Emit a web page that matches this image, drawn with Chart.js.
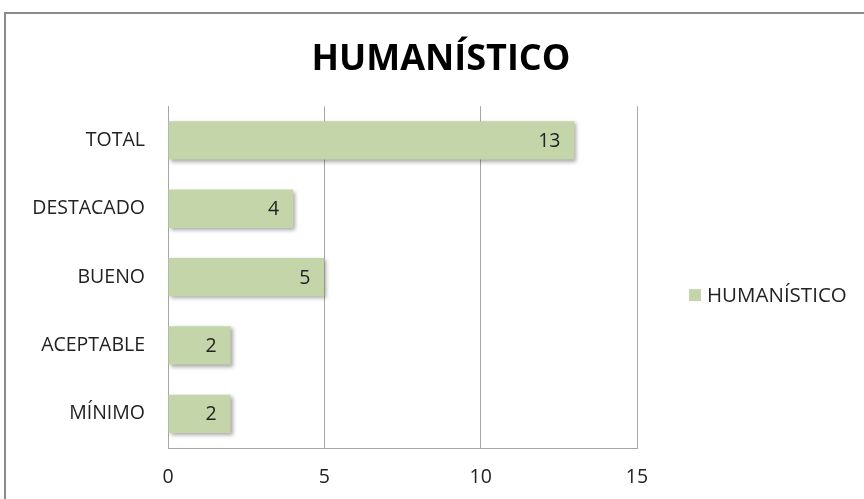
<!DOCTYPE html>
<html>
<head>
<meta charset="utf-8">
<script src="https://cdn.jsdelivr.net/npm/chart.js@4.4.1/dist/chart.umd.min.js"></script>
<style>
html,body{margin:0;padding:0;background:#fff;}
#wrap{position:relative;width:864px;height:499px;}
</style>
</head>
<body>
<div id="wrap"><canvas id="c" width="864" height="499"></canvas></div>
<script>
const chartTitle = 'HUMANÍSTICO';
const seriesName = 'HUMANÍSTICO';
const categories = ['TOTAL', 'DESTACADO', 'BUENO', 'ACEPTABLE', 'MÍNIMO'];
const values = [13, 4, 5, 2, 2];
const xTicks = [0, 5, 10, 15];

const FONT = '"Open Sans", "Liberation Sans", sans-serif';
const BAR = '#c4d6a9';

const framePlugin = {
  id: 'frame',
  beforeDraw(chart) {
    const ctx = chart.ctx;
    ctx.save();
    ctx.fillStyle = '#fff';
    ctx.fillRect(0, 0, chart.width, chart.height);
    ctx.strokeStyle = '#8a8a8a';
    ctx.lineWidth = 2;
    ctx.beginPath();
    ctx.moveTo(5, chart.height);
    ctx.lineTo(5, 13);
    ctx.lineTo(chart.width, 13);
    ctx.stroke();
    ctx.restore();
  }
};

const shadowPlugin = {
  id: 'barShadow',
  beforeDatasetDraw(chart) {
    const ctx = chart.ctx;
    ctx.save();
    ctx.shadowColor = 'rgba(0,0,0,0.35)';
    ctx.shadowBlur = 4;
    ctx.shadowOffsetX = 2;
    ctx.shadowOffsetY = 2;
  },
  afterDatasetDraw(chart) {
    chart.ctx.restore();
  }
};

const labelPlugin = {
  id: 'valueLabels',
  afterDatasetsDraw(chart) {
    const ctx = chart.ctx;
    const meta = chart.getDatasetMeta(0);
    ctx.save();
    ctx.font = '19.5px ' + FONT;
    ctx.fillStyle = '#222';
    ctx.textAlign = 'right';
    ctx.textBaseline = 'middle';
    meta.data.forEach((bar, i) => {
      ctx.fillText(String(chart.data.datasets[0].data[i]), bar.x - 14, bar.y + 1);
    });
    ctx.restore();
  }
};

const legendPlugin = {
  id: 'sideLegend',
  afterDraw(chart) {
    const ctx = chart.ctx;
    const ds = chart.data.datasets[0];
    const a = chart.chartArea;
    const cy = (a.top + a.bottom) / 2 + 18;
    ctx.save();
    ctx.fillStyle = ds.backgroundColor;
    ctx.fillRect(689, cy - 6, 12, 12);
    ctx.font = '20.5px ' + FONT;
    ctx.fillStyle = '#222';
    ctx.textAlign = 'left';
    ctx.textBaseline = 'middle';
    ctx.fillText(ds.label, 707, cy + 1);
    ctx.restore();
  }
};

new Chart(document.getElementById('c'), {
  type: 'bar',
  data: {
    labels: categories,
    datasets: [{
      label: seriesName,
      data: values,
      backgroundColor: BAR,
      borderWidth: 0,
      categoryPercentage: 1,
      barPercentage: 0.56
    }]
  },
  options: {
    indexAxis: 'y',
    responsive: false,
    animation: false,
    layout: { padding: { left: 18, right: 0, top: 0, bottom: 0 } },
    plugins: {
      legend: { display: false },
      tooltip: { enabled: false },
      title: {
        display: true,
        text: chartTitle,
        color: '#000',
        font: { family: FONT, size: 36, weight: 'bold', lineHeight: 1.2 },
        padding: { top: 38, bottom: 25 }
      }
    },
    scales: {
      x: {
        min: 0, max: 15,
        afterBuildTicks(scale) { scale.ticks = xTicks.map(v => ({ value: v })); },
        afterFit(scale) { scale.height = 51; scale.paddingRight = 227; },
        grid: { color: '#a6a6a6', lineWidth: 1, drawTicks: false },
        border: { display: true, color: '#a6a6a6', width: 1 },
        ticks: { color: '#222', font: { family: FONT, size: 19.5 }, padding: 18, maxRotation: 0 }
      },
      y: {
        afterFit(scale) { scale.width = 150; },
        grid: { display: false, drawTicks: false },
        border: { display: true, color: '#a6a6a6', width: 1 },
        ticks: { color: '#222', font: { family: FONT, size: 19.5 }, padding: 23 }
      }
    }
  },
  plugins: [framePlugin, shadowPlugin, labelPlugin, legendPlugin]
});
</script>
</body>
</html>
